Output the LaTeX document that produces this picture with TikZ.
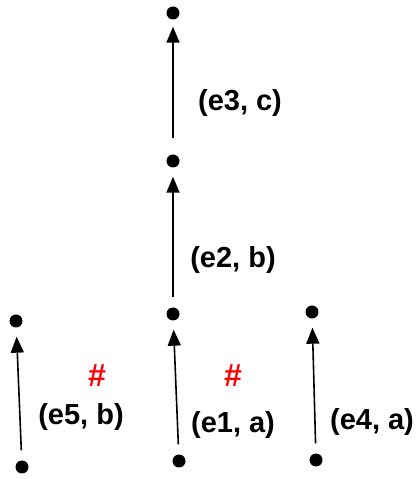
\documentclass[tikz,border=0pt]{standalone}
\usepackage{fontspec}
\setmainfont{Liberation Sans}
\usetikzlibrary{arrows.meta}

\begin{document}
\begin{tikzpicture}[x=1pt,y=1pt,
dot/.style={circle,fill=black,inner sep=0pt,minimum size=13pt},
arrow/.style={-{Triangle[length=16pt,width=13pt]},line width=1.6pt,shorten >=9pt,shorten <=10pt},
lbl/.style={font=\fontsize{29}{32}\selectfont\bfseries,inner sep=0pt},
excl/.style={font=\fontsize{32}{36}\selectfont\bfseries,text=red,inner sep=0pt}]
\useasboundingbox (0,0) rectangle (416,479);
% main chain
\node[dot] (v0) at (179,18) {};
\node[dot] (v1) at (173,165) {};
\node[dot] (v2) at (173,318) {};
\node[dot] (v3) at (173,466) {};
% side edges
\node[dot] (l0) at (22,12) {};
\node[dot] (l1) at (16,158) {};
\node[dot] (r0) at (316,19) {};
\node[dot] (r1) at (312,167) {};
\draw[arrow] (v0) -- (v1);
\draw[arrow] (v1) -- (v2);
\draw[arrow,shorten <=16pt,shorten >=7pt] (v2) -- (v3);
\draw[arrow] (l0) -- (l1);
\draw[arrow] (r0) -- (r1);
\node[lbl] (e1) at (233,54) {(e1, a)};
\node[lbl] (e2) at (233,219) {(e2, b)};
\node[lbl] (e3) at (240,376) {(e3, c)};
\node[lbl] (e5) at (81,62) {(e5, b)};
\node[lbl] (e4) at (372,57) {(e4, a)};
\node[excl] (x1) at (97,103) {\#};
\node[excl] (x2) at (233,103) {\#};
\end{tikzpicture}
\end{document}
